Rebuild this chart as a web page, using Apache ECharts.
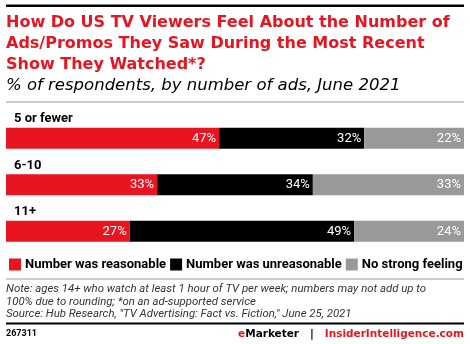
<!DOCTYPE html>
<html><head><meta charset="utf-8">
<script src="https://cdn.jsdelivr.net/npm/echarts@6/dist/echarts.min.js"></script>
<style>html,body{margin:0;padding:0;background:#fff}#c{width:470px;height:344px}</style>
</head><body><div id="c"></div>
<script>
const categories = ['5 or fewer', '6-10', '11+'];
const seriesNames = ['Number was reasonable', 'Number was unreasonable', 'No strong feeling'];
const reasonable = [47, 33, 27];
const unreasonable = [32, 34, 49];
const noFeeling = [22, 33, 24];
const colors = ['#e8141f', '#000000', '#999999'];

const raw = [reasonable, unreasonable, noFeeling];
const totals = categories.map((c, i) => raw.reduce((s, arr) => s + arr[i], 0));

const FONT = 'Roboto';
const chart = echarts.init(document.getElementById('c'), null, {renderer: 'canvas'});
chart.setOption({
  animation: false,
  textStyle: {fontFamily: FONT},
  grid: {left: 6, right: 6, top: 115, height: 139.5, containLabel: false},
  xAxis: {type: 'value', min: 0, max: 100, show: false},
  yAxis: {
    type: 'category', data: categories, inverse: true,
    axisLine: {show: false}, axisTick: {show: false},
    axisLabel: {inside: true, verticalAlign: 'bottom', align: 'left', padding: [0, 0, 13, 0],
      color: '#000', fontWeight: 'bold', fontSize: 13, fontFamily: FONT}
  },
  legend: {
    left: 4, top: 253, itemWidth: 12, itemHeight: 12, itemGap: 4, icon: 'rect',
    textStyle: {fontSize: 13, fontWeight: 'bold', color: '#000', fontFamily: FONT, padding: [0, 0, 0, -1]},
    data: seriesNames
  },
  series: raw.map((arr, k) => ({
    name: seriesNames[k], type: 'bar', stack: 'total', barWidth: 21,
    itemStyle: {color: colors[k]},
    data: arr.map((v, i) => ({value: v / totals[i] * 100, raw: v})),
    label: {show: true, position: 'insideRight', color: '#fff', fontSize: 13, fontFamily: FONT,
      distance: 3, formatter: p => raw[k][p.dataIndex] + '%'}
  })),
  graphic: [
    {type: 'rect', shape: {x: 6, y: 4.5, width: 458, height: 2.5}, style: {fill: '#000'}},
    {type: 'text', left: 6, top: 12.5, style: {
      text: 'How Do US TV Viewers Feel About the Number of\nAds/Promos They Saw During the Most Recent\nShow They Watched*?',
      fill: '#e8141f', font: 'bold 16px "DejaVu Sans"', lineHeight: 21}},
    {type: 'text', left: 6, top: 77, style: {
      text: '% of respondents, by number of ads, June 2021',
      fill: '#000', font: 'italic 16.5px "DejaVu Sans"'}},
    {type: 'rect', shape: {x: 6, y: 101.5, width: 458, height: 1}, style: {fill: '#999'}},
    {type: 'rect', shape: {x: 6, y: 278.5, width: 458, height: 1}, style: {fill: '#999'}},
    {type: 'text', left: 6, top: 283, style: {
      text: 'Note: ages 14+ who watch at least 1 hour of TV per week; numbers may not add up to\n100% due to rounding; *on an ad-supported service\nSource: Hub Research, "TV Advertising: Fact vs. Fiction," June 25, 2021',
      fill: '#333', font: 'italic 11.4px Roboto', lineHeight: 12.5}},
    {type: 'rect', shape: {x: 6, y: 322.5, width: 458, height: 2}, style: {fill: '#000'}},
    {type: 'text', left: 6, top: 329, style: {text: '267311', fill: '#000', font: 'bold 9px Roboto'}},
    {type: 'text', right: 6, top: 328.5, style: {
      text: '{r|e}{b|Marketer   |   }{r|InsiderIntelligence.com}',
      rich: {r: {fill: '#e8141f', font: 'bold 10.5px "DejaVu Sans"'},
             b: {fill: '#000', font: 'bold 10.5px "DejaVu Sans"'}}}}
  ]
});
</script></body></html>
